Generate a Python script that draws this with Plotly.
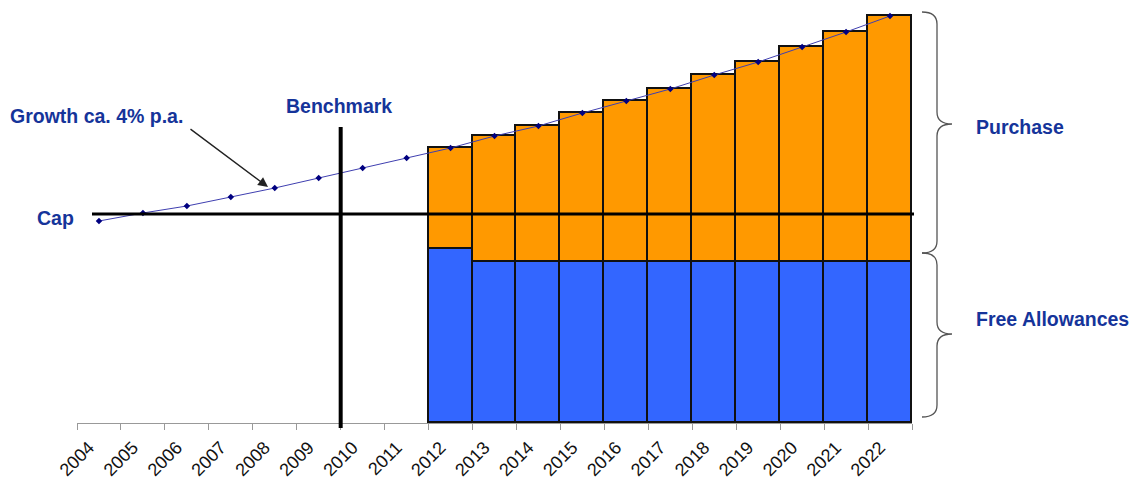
import plotly.graph_objects as go

# ---- data (arbitrary units) ----
years = [str(y) for y in range(2004, 2023)]
emissions = [202, 210, 217, 226, 235, 245, 255, 265, 275, 287, 297,
             310, 322, 334, 348, 361, 376, 391, 407]
bar_years = [str(y) for y in range(2012, 2023)]
free_allowances = [174, 161, 161, 161, 161, 161, 161, 161, 161, 161, 161]
purchase = [101, 126, 136, 149, 161, 173, 187, 200, 215, 230, 246]
cap_level = 209
benchmark_pos = 5.5   # boundary between 2009 and 2010

W, H = 1134, 483
ML, MR, MT, MB = 77, 222, 10, 60
PLOT_W = W - ML - MR
PLOT_H = H - MT - MB
Y_MAX = PLOT_H  # 1 unit per pixel


def PX(x):
    return (x - ML) / PLOT_W


def PY(y):
    return (H - MB - y) / PLOT_H


def v2py(v):
    return H - MB - v * PLOT_H / Y_MAX


TXT = "#15349a"
FONT = "Arial, Liberation Sans, sans-serif"
LBL = 19.5

fig = go.Figure()
fig.add_trace(go.Bar(x=bar_years, y=free_allowances, marker=dict(color="#3366ff", line=dict(color="#111111", width=1.8)),
                     name="Free Allowances", hoverinfo="x+y"))
fig.add_trace(go.Bar(x=bar_years, y=purchase, marker=dict(color="#ff9900", line=dict(color="#111111", width=1.8)),
                     name="Purchase", hoverinfo="x+y"))
fig.add_trace(go.Scatter(x=years, y=emissions, mode="lines+markers",
                         line=dict(color="#3f3fb0", width=1),
                         marker=dict(symbol="diamond", size=5, color="#000080"),
                         name="Emissions"))

shapes = []
# cap line
shapes.append(dict(type="line", xref="paper", yref="y", x0=PX(92), x1=PX(914),
                   y0=cap_level, y1=cap_level, line=dict(color="black", width=3), layer="above"))
# benchmark line
shapes.append(dict(type="line", xref="x", yref="paper", x0=benchmark_pos, x1=benchmark_pos,
                   y0=PY(428), y1=PY(127), line=dict(color="black", width=4), layer="above"))


def brace(ytop, ybot, ytip, x0=922, x1=937, x2=952, r=12):
    def p(x, y):
        return f"{PX(x):.5f},{PY(y):.5f}"
    path = (f"M {p(x0, ytop)} Q {p(x1, ytop)} {p(x1, ytop + r)} "
            f"L {p(x1, ytip - r)} Q {p(x1, ytip)} {p(x2, ytip)} "
            f"Q {p(x1, ytip)} {p(x1, ytip + r)} "
            f"L {p(x1, ybot - r)} Q {p(x1, ybot)} {p(x0, ybot)}")
    return dict(type="path", xref="paper", yref="paper", path=path,
                line=dict(color="#555555", width=1.3))


free_top = v2py(free_allowances[-1]) - 9
shapes.append(brace(v2py(emissions[-1]) - 4, free_top, 124))
shapes.append(brace(free_top, v2py(0) - 6, 334))

annotations = [
    dict(text="Growth ca. 4% p.a.", xref="paper", yref="paper", x=PX(8), y=PY(116),
         xanchor="left", yanchor="middle", showarrow=False,
         font=dict(family=FONT, size=LBL, color=TXT, weight="bold")),
    dict(text="Benchmark", xref="paper", yref="paper", x=PX(339), y=PY(106),
         xanchor="center", yanchor="middle", showarrow=False,
         font=dict(family=FONT, size=LBL, color=TXT, weight="bold")),
    dict(text="Cap", xref="paper", yref="paper", x=PX(35), y=PY(218),
         xanchor="left", yanchor="middle", showarrow=False,
         font=dict(family=FONT, size=LBL, color=TXT, weight="bold")),
    dict(text="Purchase", xref="paper", yref="paper", x=PX(974), y=PY(127),
         xanchor="left", yanchor="middle", showarrow=False,
         font=dict(family=FONT, size=LBL, color=TXT, weight="bold")),
    dict(text="Free Allowances", xref="paper", yref="paper", x=PX(974), y=PY(319),
         xanchor="left", yanchor="middle", showarrow=False,
         font=dict(family=FONT, size=LBL, color=TXT, weight="bold")),
    dict(text="", xref="paper", yref="paper", x=PX(268), y=PY(187),
         ax=189 - 268, ay=128 - 187, axref="pixel", ayref="pixel",
         showarrow=True, arrowhead=2, arrowsize=1.4, arrowwidth=1.4, arrowcolor="#222222"),
]

fig.update_layout(
    width=W, height=H,
    margin=dict(l=ML, r=MR, t=MT, b=MB, pad=0, autoexpand=False),
    paper_bgcolor="white", plot_bgcolor="white",
    barmode="stack", bargap=0, showlegend=False,
    shapes=shapes, annotations=annotations,
    xaxis=dict(type="category", categoryorder="array", categoryarray=years,
               range=[-0.5, 18.5], tickson="boundaries", ticks="outside", ticklen=6,
               tickcolor="#999999", showline=True, linecolor="#999999", linewidth=1,
               showgrid=False, zeroline=False, tickangle=-45, ticklabelstandoff=6,
               ticklabelshift=-10, automargin=False,
               tickfont=dict(family=FONT, size=18, color="#111111")),
    yaxis=dict(range=[0, Y_MAX], visible=False, showgrid=False, zeroline=False),
)

fig.write_html("out.html")
